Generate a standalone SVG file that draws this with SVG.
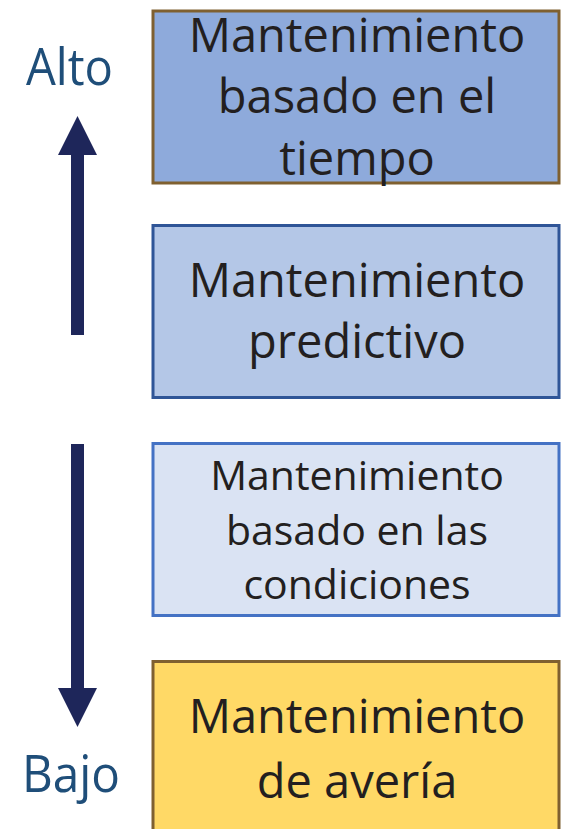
<svg xmlns="http://www.w3.org/2000/svg" width="562" height="829" viewBox="0 0 562 829">
<style>
.box{stroke-width:3}
.t{font-family:"Open Sans","DejaVu Sans",sans-serif;fill:#231f20;text-anchor:middle}
.big{font-size:47px}
.small{font-size:41px}
.lbl{font-family:"Open Sans","DejaVu Sans",sans-serif;font-size:52px;fill:#1f4e79}
.arr{fill:#1e265a}
</style>
<rect width="562" height="829" fill="#ffffff"/>
<g id="node-tiempo">
<rect class="box" x="153" y="11" width="406" height="172" fill="#8eaadb" stroke="#7f6030"/>
<text class="t big" x="357" y="52">Mantenimiento</text>
<text class="t big" x="357" y="113">basado en el</text>
<text class="t big" x="357" y="175">tiempo</text>
</g>
<g id="node-predictivo">
<rect class="box" x="153" y="225.5" width="406" height="172" fill="#b4c7e7" stroke="#2f5597"/>
<text class="t big" x="357" y="297">Mantenimiento</text>
<text class="t big" x="357" y="358">predictivo</text>
</g>
<g id="node-condiciones">
<rect class="box" x="153" y="443.5" width="406" height="172" fill="#dae3f3" stroke="#4472c4"/>
<text class="t small" x="357" y="490">Mantenimiento</text>
<text class="t small" x="357" y="545">basado en las</text>
<text class="t small" x="357" y="599">condiciones</text>
</g>
<g id="node-averia">
<rect class="box" x="153" y="661.5" width="406" height="200" fill="#ffd966" stroke="#7f6030"/>
<text class="t big" x="357" y="733">Mantenimiento</text>
<text class="t big" x="357" y="798">de avería</text>
</g>
<g id="label-alto">
<text class="lbl" x="26" y="85" textLength="87" lengthAdjust="spacingAndGlyphs">Alto</text>
</g>
<g id="label-bajo">
<text class="lbl" x="22" y="792" textLength="98" lengthAdjust="spacingAndGlyphs">Bajo</text>
</g>
<g id="connectors">
<polygon class="arr" points="71,335 84,335 84,155 97,155 77.5,116 58,155 71,155"/>
<polygon class="arr" points="71,444 84,444 84,688 97,688 77.5,727 58,688 71,688"/>
</g>
</svg>
